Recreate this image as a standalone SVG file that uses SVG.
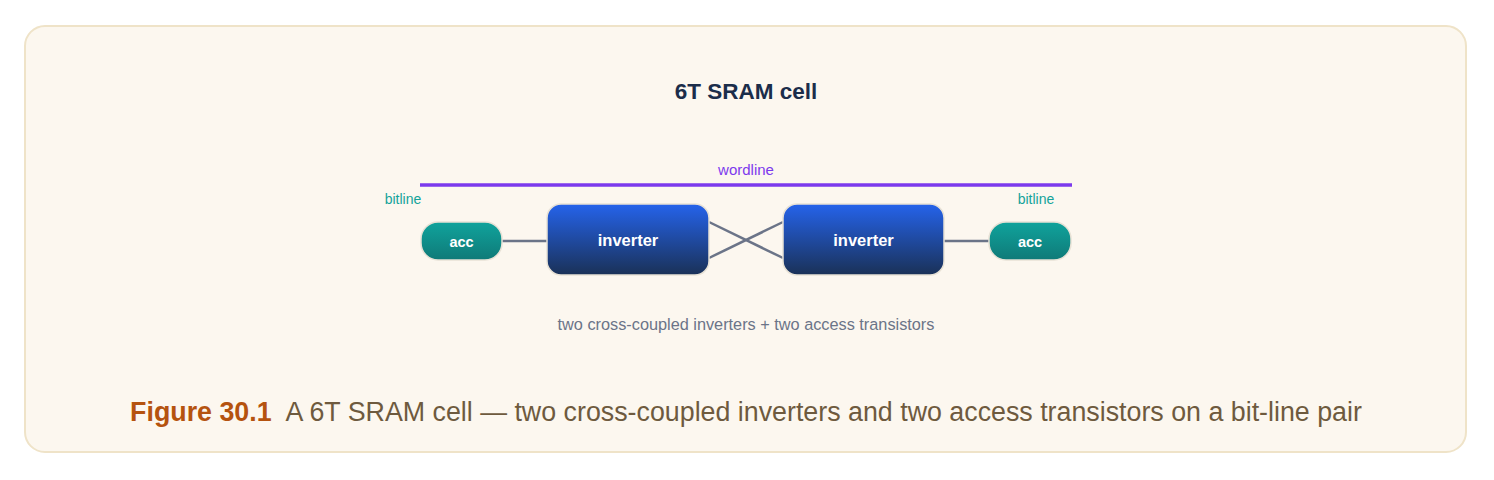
<svg xmlns="http://www.w3.org/2000/svg" width="1494" height="480" viewBox="0 0 1494 480">
<defs>
<linearGradient id="gInv" x1="0" y1="0" x2="0" y2="1"><stop offset="0" stop-color="#2563eb"/><stop offset="1" stop-color="#1a3157"/></linearGradient>
<linearGradient id="gAcc" x1="0" y1="0" x2="0" y2="1"><stop offset="0" stop-color="#10a39c"/><stop offset="1" stop-color="#0f7a78"/></linearGradient>
<style>
text{font-family:"Liberation Sans",Arial,sans-serif}
.node{stroke:#e8e2d6;stroke-width:1.5}
.lbl{fill:#ffffff;font-weight:bold;text-anchor:middle}
.bl{fill:#14a39a;font-size:14px;text-anchor:middle}
.conn{stroke:#6b7488;stroke-width:2.5;fill:none}
</style>
</defs>
<rect x="25" y="26" width="1441" height="426" rx="20" fill="#fcf7ef" stroke="#efe3c8" stroke-width="2"/>
<text x="746" y="99" text-anchor="middle" font-size="22.5" font-weight="bold" fill="#1b2d4a">6T SRAM cell</text>
<line x1="420" y1="185" x2="1072" y2="185" stroke="#7c3aed" stroke-width="3.5"/>
<text x="746" y="175" text-anchor="middle" font-size="15" fill="#7c3aed">wordline</text>
<text class="bl" x="403" y="204">bitline</text>
<text class="bl" x="1036" y="204">bitline</text>
<g id="connectors">
<line class="conn" x1="502" y1="241" x2="547" y2="241"/>
<line class="conn" x1="944" y1="241" x2="989" y2="241"/>
<line class="conn" x1="709" y1="222" x2="783" y2="258"/>
<line class="conn" x1="709" y1="258" x2="783" y2="222"/>
</g>
<g id="acc1"><rect class="node" x="421" y="222" width="81" height="38" rx="17" fill="url(#gAcc)"/><text class="lbl" x="461.5" y="247" font-size="14.5">acc</text></g>
<g id="inv1"><rect class="node" x="547" y="204" width="162" height="71" rx="14" fill="url(#gInv)"/><text class="lbl" x="628" y="246" font-size="16.5">inverter</text></g>
<g id="inv2"><rect class="node" x="783" y="204" width="161" height="71" rx="14" fill="url(#gInv)"/><text class="lbl" x="863.5" y="246" font-size="16.5">inverter</text></g>
<g id="acc2"><rect class="node" x="989" y="222" width="82" height="38" rx="17" fill="url(#gAcc)"/><text class="lbl" x="1030" y="247" font-size="14.5">acc</text></g>
<text x="746" y="330" text-anchor="middle" font-size="16.3" fill="#6b7488">two cross-coupled inverters + two access transistors</text>
<text x="746" y="421" text-anchor="middle" font-size="26.8" fill="#6e5a3e"><tspan font-weight="bold" fill="#b5530f">Figure 30.1</tspan><tspan dx="14">A 6T SRAM cell — two cross-coupled inverters and two access transistors on a bit-line pair</tspan></text>
</svg>
